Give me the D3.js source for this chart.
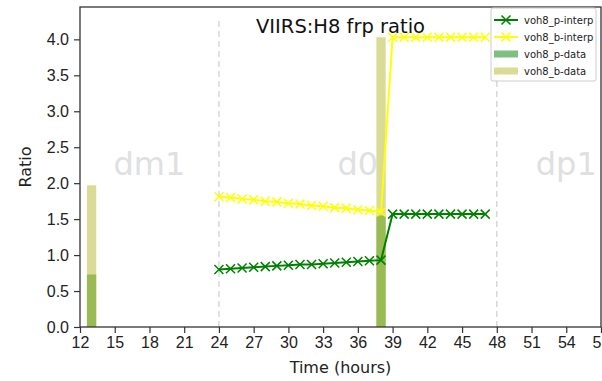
<!DOCTYPE html>
<html>
<head>
<meta charset="utf-8">
<script src="https://cdn.jsdelivr.net/npm/d3@7"></script>
<style>
  body { margin: 0; background: #fff; }
  svg { font-family: "DejaVu Sans", sans-serif; }
</style>
</head>
<body>
<svg id="chart" width="602" height="381"></svg>
<script>
// data
var pHours = [24, 25, 26, 27, 28, 29, 30, 31, 32, 33, 34, 35, 36, 37, 38, 39, 40, 41, 42, 43, 44, 45, 46, 47];
var pInterp = [0.80, 0.81, 0.82, 0.83, 0.84, 0.85, 0.86, 0.87, 0.87, 0.88, 0.89, 0.90, 0.91, 0.92, 0.93,
  1.57, 1.57, 1.57, 1.57, 1.57, 1.57, 1.57, 1.57, 1.57];
var bInterp = [1.81, 1.80, 1.78, 1.77, 1.75, 1.74, 1.72, 1.71, 1.69, 1.68, 1.66, 1.65, 1.63, 1.62, 1.60,
  4.03, 4.03, 4.03, 4.03, 4.03, 4.03, 4.03, 4.03, 4.03];
var dataHours = [13, 38];
var pData = [0.73, 1.55];
var bData = [1.97, 4.03];
var dayLines = [24, 48];
var dayLabels = [{ name: 'dm1', x: 18 }, { name: 'd0', x: 36 }, { name: 'dp1', x: 54 }];
var xTicks = [12, 15, 18, 21, 24, 27, 30, 33, 36, 39, 42, 45, 48, 51, 54, 57];
var yTicks = [0, 0.5, 1.0, 1.5, 2.0, 2.5, 3.0, 3.5, 4.0];

var margin = { left: 80, top: 7, right: 1, bottom: 54 },
  width = 602 - margin.left - margin.right,
  height = 381 - margin.top - margin.bottom;

var svg = d3.select('#chart');
var g = svg.append('g').attr('transform', `translate(${margin.left},${margin.top})`);

var x = d3.scaleLinear().domain([12, 57]).range([0, width]);
var y = d3.scaleLinear().domain([0, 4.45]).range([height, 0]);

// day labels (faint) -------------------- //
g.selectAll('text.day')
  .data(dayLabels)
  .enter()
  .append('text')
  .attr('class', 'day')
  .attr('x', d => x(d.x))
  .attr('y', y(2.11))
  .attr('text-anchor', 'middle')
  .style('font-size', '32px')
  .style('fill', '#e0e0e0')
  .text(d => d.name);

// day boundaries
g.selectAll('line.day')
  .data(dayLines)
  .enter()
  .append('line')
  .attr('x1', d => x(d)).attr('x2', d => x(d))
  .attr('y1', height).attr('y2', height * 0.04)
  .attr('stroke', '#d8d8d8')
  .attr('stroke-width', 1.5)
  .attr('stroke-dasharray', '6,4');

// bars -------------------- //
var barW = x(12.8) - x(12);
g.selectAll('rect.p')
  .data(dataHours)
  .enter()
  .append('rect')
  .attr('x', d => x(d) - barW / 2)
  .attr('width', barW)
  .attr('y', (d, i) => y(pData[i]))
  .attr('height', (d, i) => height - y(pData[i]))
  .attr('fill', 'green')
  .attr('fill-opacity', 0.5);

g.selectAll('rect.b')
  .data(dataHours)
  .enter()
  .append('rect')
  .attr('x', d => x(d) - barW / 2)
  .attr('width', barW)
  .attr('y', (d, i) => y(bData[i]))
  .attr('height', (d, i) => height - y(bData[i]))
  .attr('fill', '#b5b82a')
  .attr('fill-opacity', 0.5);

// interp lines -------------------- //
var series = [
  { name: 'voh8_p-interp', values: pInterp, color: '#008000' },
  { name: 'voh8_b-interp', values: bInterp, color: '#ffff00' }
];
var line = d3.line()
  .x(d => x(d[0]))
  .y(d => y(d[1]));
var ms = 4.5;
function cross(sel, color) {
  sel.append('path')
    .attr('d', `M${-ms},${-ms}L${ms},${ms}M${-ms},${ms}L${ms},${-ms}`)
    .attr('stroke', color)
    .attr('stroke-width', 1.5)
    .attr('fill', 'none');
}

series.forEach(function (s) {
  var pts = pHours.map((h, i) => [h, s.values[i]]);
  g.append('path')
    .datum(pts)
    .attr('d', line)
    .attr('fill', 'none')
    .attr('stroke', s.color)
    .attr('stroke-width', 2);
  g.selectAll(null)
    .data(pts)
    .enter()
    .append('g')
    .attr('transform', d => `translate(${x(d[0])},${y(d[1])})`)
    .call(cross, s.color);
});

// axes -------------------- //
var xAxis = g.append('g')
  .attr('transform', `translate(0,${height})`)
  .call(d3.axisBottom(x).tickValues(xTicks).tickFormat(d3.format('d')).tickSize(6).tickPadding(4));
var yAxis = g.append('g')
  .call(d3.axisLeft(y).tickValues(yTicks).tickFormat(d3.format('.1f')).tickSize(6).tickPadding(5));
[xAxis, yAxis].forEach(function (a) {
  a.select('.domain').remove();
  a.selectAll('line').attr('stroke', '#333').attr('stroke-width', 1.2);
  a.selectAll('text').style('font-size', '16px').style('fill', '#222').attr('font-family', null);
});

g.append('rect')
  .attr('width', width).attr('height', height)
  .attr('fill', 'none')
  .attr('stroke', '#333')
  .attr('stroke-width', 1.3);

// titles -------------------- //
g.append('text')
  .attr('x', width / 2)
  .attr('y', 26)
  .attr('text-anchor', 'middle')
  .style('font-size', '19.5px')
  .style('fill', '#111')
  .text('VIIRS:H8 frp ratio');

svg.append('text')
  .attr('x', margin.left + width / 2)
  .attr('y', 373)
  .attr('text-anchor', 'middle')
  .style('font-size', '16px')
  .style('fill', '#222')
  .text('Time (hours)');

svg.append('text')
  .attr('transform', `translate(31,${margin.top + height / 2}) rotate(-90)`)
  .attr('text-anchor', 'middle')
  .style('font-size', '16px')
  .style('fill', '#222')
  .text('Ratio');

// legend -------------------- //
var legend = svg.append('g').attr('transform', 'translate(491,8)');
legend.append('rect')
  .attr('width', 105).attr('height', 73)
  .attr('rx', 2)
  .attr('fill', '#fff').attr('fill-opacity', 0.85)
  .attr('stroke', '#ccc');
var items = [
  { name: series[0].name, type: 'line', color: series[0].color },
  { name: series[1].name, type: 'line', color: series[1].color },
  { name: 'voh8_p-data', type: 'bar', color: 'green', op: 0.5 },
  { name: 'voh8_b-data', type: 'bar', color: '#b5b82a', op: 0.5 }
];
var row = legend.selectAll('g.item')
  .data(items)
  .enter()
  .append('g')
  .attr('transform', (d, i) => `translate(0,${12 + i * 17})`);
row.each(function (d) {
  var r = d3.select(this);
  if (d.type === 'line') {
    r.append('line')
      .attr('x1', 3).attr('x2', 27)
      .attr('stroke', d.color).attr('stroke-width', 2);
    r.append('g').attr('transform', 'translate(15,0)').call(cross, d.color);
  } else {
    r.append('rect')
      .attr('x', 3).attr('y', -3.5)
      .attr('width', 24).attr('height', 7)
      .attr('fill', d.color).attr('fill-opacity', d.op);
  }
  r.append('text')
    .attr('x', 33)
    .attr('dy', '0.35em')
    .style('font-size', '10px')
    .style('fill', '#222')
    .text(d.name);
});
</script>
</body>
</html>
